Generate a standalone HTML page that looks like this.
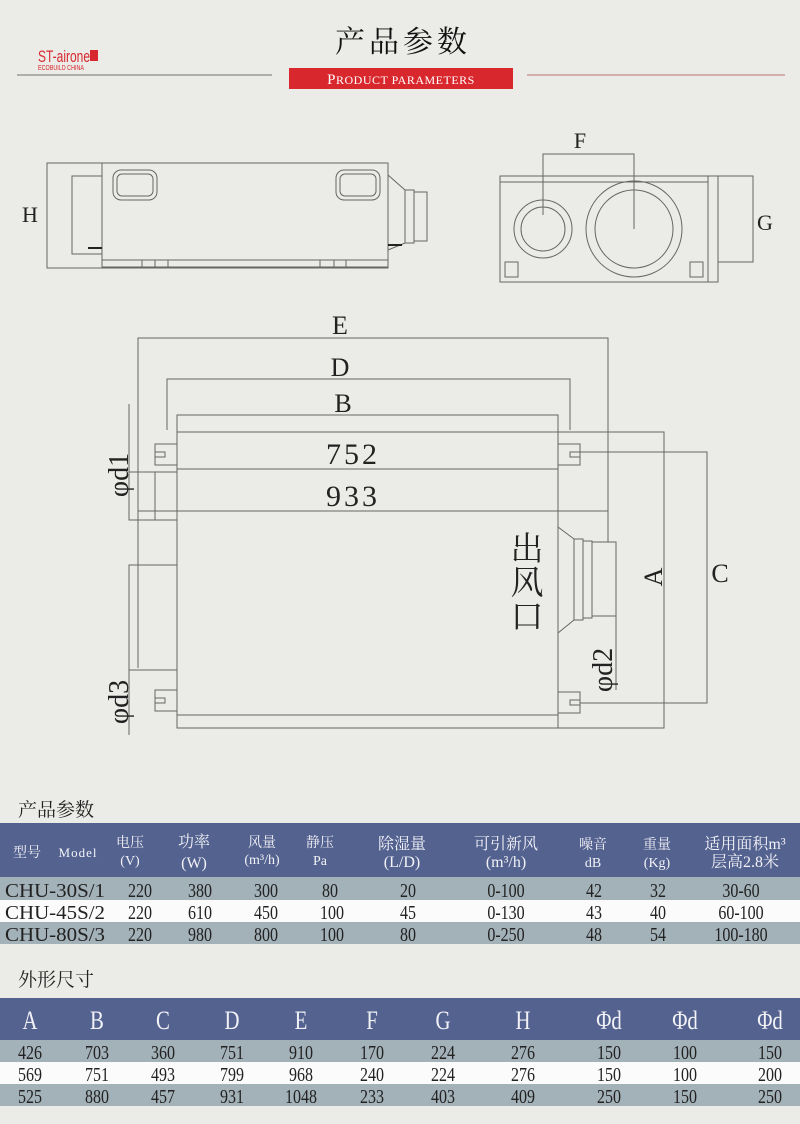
<!DOCTYPE html>
<html><head><meta charset="utf-8"><style>
html,body{margin:0;padding:0;background:#ebebe7;}
svg{display:block;}
text{font-family:"Liberation Serif","Noto Serif CJK SC",serif;}
.n text{transform-box:fill-box;transform-origin:center;transform:scaleX(0.8);}
.logo{font-family:"Liberation Sans",sans-serif !important;}
</style></head><body>
<svg width="800" height="1124" viewBox="0 0 800 1124" xmlns="http://www.w3.org/2000/svg">
<rect width="800" height="1124" fill="#ebebe7"/>
<text x="403" y="52" font-size="30" text-anchor="middle" fill="#111" letter-spacing="4">产品参数</text>
<line x1="17" y1="75" x2="272" y2="75" stroke="#999" stroke-width="1.5"/>
<line x1="527" y1="75" x2="785" y2="75" stroke="#c99" stroke-width="1.5"/>
<rect x="289" y="68" width="224" height="21" fill="#d9272e"/>
<text x="401" y="84" font-size="15" text-anchor="middle" fill="#fff" letter-spacing="0.5">P<tspan font-size="12">RODUCT PARAMETERS</tspan></text>
<text class="logo" x="38" y="62" font-size="17" fill="#d9272e" textLength="52" lengthAdjust="spacingAndGlyphs">ST-airone</text>
<rect x="90" y="50" width="8" height="11" fill="#d9272e"/>
<text class="logo" x="38" y="70" font-size="7" fill="#d9272e" textLength="46" lengthAdjust="spacingAndGlyphs">ECOBUILD CHINA</text>

<g fill="none" stroke="#666" stroke-width="1">
<rect x="47" y="163" width="341" height="105"/>
<rect x="102" y="163" width="286" height="97"/>
<rect x="102" y="260" width="286" height="7"/>
<rect x="72" y="176" width="30" height="78"/>
<rect x="113" y="170" width="44" height="30" rx="8"/>
<rect x="117" y="174" width="36" height="22" rx="5"/>
<rect x="336" y="170" width="44" height="30" rx="8"/>
<rect x="340" y="174" width="36" height="22" rx="5"/>
<path d="M388 175 L405 190 L405 243 L388 250"/>
<rect x="405" y="190" width="9" height="53"/>
<rect x="414" y="192" width="13" height="49"/>
<line x1="142" y1="260" x2="142" y2="267"/><line x1="155" y1="260" x2="155" y2="267"/><line x1="168" y1="260" x2="168" y2="267"/>
<line x1="320" y1="260" x2="320" y2="267"/><line x1="334" y1="260" x2="334" y2="267"/><line x1="346" y1="260" x2="346" y2="267"/>
<line x1="88" y1="248" x2="102" y2="248" stroke="#222" stroke-width="2"/>
<line x1="388" y1="245" x2="402" y2="245" stroke="#222" stroke-width="2"/>
<rect x="500" y="176" width="208" height="106"/>
<line x1="500" y1="182" x2="708" y2="182"/>
<rect x="708" y="176" width="10" height="106"/>
<rect x="718" y="176" width="35" height="86"/>
<circle cx="543" cy="229" r="29"/><circle cx="543" cy="229" r="22"/>
<circle cx="634" cy="229" r="48"/><circle cx="634" cy="229" r="39"/>
<polyline points="543,215 543,154 634,154 634,229"/>
<rect x="505" y="262" width="13" height="15"/><rect x="690" y="262" width="13" height="15"/>
<polyline points="138,668 138,338 608,338 608,542"/>
<polyline points="167,430 167,379 570,379 570,430"/>
<polyline points="177,432 177,415 558,415 558,432"/>
<rect x="177" y="432" width="381" height="296"/>
<line x1="177" y1="715" x2="558" y2="715"/>
<line x1="177" y1="469" x2="558" y2="469"/>
<line x1="138" y1="511" x2="608" y2="511"/>
<path d="M177 444 H155 V465 H177 M155 452 H165 V457 H155"/>
<path d="M177 690 H155 V711 H177 M155 698 H165 V703 H155"/>
<path d="M558 444 H580 V465 H558 M580 452 H570 V457 H580"/>
<path d="M558 692 H580 V713 H558 M580 700 H570 V705 H580"/>
<polyline points="129,404 129,520 177,520"/>
<polyline points="155,472 155,520"/>
<line x1="129" y1="472" x2="177" y2="472"/>
<polyline points="177,565 129,565 129,735"/>
<line x1="129" y1="670" x2="177" y2="670"/>
<path d="M558 527 L574 539 L574 620 L558 633"/>
<rect x="574" y="539" width="9" height="81"/><rect x="583" y="541" width="9" height="77"/><rect x="592" y="542" width="24" height="74"/>
<line x1="616" y1="616" x2="616" y2="690"/>
<polyline points="558,432 664,432 664,728 558,728"/>
<polyline points="580,452 707,452 707,703 580,703"/>
</g>
<g fill="#222" font-size="26" text-anchor="middle">
<text x="30" y="222" font-size="22">H</text>
<text x="580" y="148" font-size="22">F</text>
<text x="765" y="230" font-size="22">G</text>
<text x="340" y="334">E</text>
<text x="340" y="376">D</text>
<text x="343" y="412">B</text>
<text x="353" y="464" font-size="30" letter-spacing="3">752</text>
<text x="353" y="506" font-size="30" letter-spacing="3">933</text>
<text x="720" y="582">C</text>
<text transform="translate(662,577) rotate(-90)">A</text>
<text transform="translate(128,475) rotate(-90)" font-size="28">φd1</text>
<text transform="translate(128,702) rotate(-90)" font-size="28">φd3</text>
<text transform="translate(612,670) rotate(-90)" font-size="28">φd2</text>
<text x="527" y="560" font-size="33">出</text>
<text x="527" y="594" font-size="33">风</text>
<text x="527" y="628" font-size="33">口</text>
</g>

<text x="18" y="816" font-size="19" fill="#222">产品参数</text>
<rect x="0" y="823" width="800" height="54" fill="#546290"/>
<rect x="0" y="877" width="800" height="23" fill="#a3b1b8"/>
<rect x="0" y="900" width="800" height="22" fill="#fbfbfb"/>
<rect x="0" y="922" width="800" height="22" fill="#a3b1b8"/>
<g fill="#f2f2f6" text-anchor="middle" font-size="14">
<text x="27" y="857">型号</text><text x="78" y="857" font-size="13" letter-spacing="1">Model</text>
<text x="130" y="847">电压</text><text x="130" y="865">(V)</text>
<text x="194" y="847" font-size="16">功率</text><text x="194" y="868" font-size="16">(W)</text>
<text x="262" y="847">风量</text><text x="262" y="864">(m³/h)</text>
<text x="320" y="847">静压</text><text x="320" y="865">Pa</text>
<text x="402" y="849" font-size="16">除湿量</text><text x="402" y="867" font-size="16">(L/D)</text>
<text x="506" y="849" font-size="16">可引新风</text><text x="506" y="867" font-size="16">(m³/h)</text>
<text x="593" y="849">噪音</text><text x="593" y="867">dB</text>
<text x="657" y="849">重量</text><text x="657" y="867">(Kg)</text>
<text x="745" y="849" font-size="16">适用面积m³</text><text x="745" y="867" font-size="16">层高2.8米</text>
</g>
<g fill="#222" font-size="20">
<text x="5" y="897" textLength="100" lengthAdjust="spacingAndGlyphs">CHU-30S/1</text>
<text x="5" y="919" textLength="100" lengthAdjust="spacingAndGlyphs">CHU-45S/2</text>
<text x="5" y="941" textLength="100" lengthAdjust="spacingAndGlyphs">CHU-80S/3</text>
</g>
<g fill="#222" font-size="20" text-anchor="middle" class="n">
<text x="140" y="897">220</text><text x="200" y="897">380</text><text x="266" y="897">300</text><text x="330" y="897">80</text><text x="408" y="897">20</text><text x="506" y="897">0-100</text><text x="594" y="897">42</text><text x="658" y="897">32</text><text x="741" y="897">30-60</text>
<text x="140" y="919">220</text><text x="200" y="919">610</text><text x="266" y="919">450</text><text x="332" y="919">100</text><text x="408" y="919">45</text><text x="506" y="919">0-130</text><text x="594" y="919">43</text><text x="658" y="919">40</text><text x="741" y="919">60-100</text>
<text x="140" y="941">220</text><text x="200" y="941">980</text><text x="266" y="941">800</text><text x="332" y="941">100</text><text x="408" y="941">80</text><text x="506" y="941">0-250</text><text x="594" y="941">48</text><text x="658" y="941">54</text><text x="741" y="941">100-180</text>
</g>

<text x="18" y="986" font-size="19" fill="#222">外形尺寸</text>
<rect x="0" y="998" width="800" height="42" fill="#546290"/>
<rect x="0" y="1040" width="800" height="22" fill="#a3b1b8"/>
<rect x="0" y="1062" width="800" height="22" fill="#fbfbfb"/>
<rect x="0" y="1084" width="800" height="22" fill="#a3b1b8"/>
<g fill="#f2f2f6" text-anchor="middle" font-size="26" class="n">
<text x="30" y="1029">A</text><text x="97" y="1029">B</text><text x="163" y="1029">C</text><text x="232" y="1029">D</text><text x="301" y="1029">E</text><text x="372" y="1029">F</text><text x="443" y="1029">G</text><text x="523" y="1029">H</text><text x="609" y="1029">Φd</text><text x="685" y="1029">Φd</text><text x="770" y="1029">Φd</text>
</g>
<g fill="#222" font-size="20" text-anchor="middle" class="n">
<text x="30" y="1059">426</text><text x="97" y="1059">703</text><text x="163" y="1059">360</text><text x="232" y="1059">751</text><text x="301" y="1059">910</text><text x="372" y="1059">170</text><text x="443" y="1059">224</text><text x="523" y="1059">276</text><text x="609" y="1059">150</text><text x="685" y="1059">100</text><text x="770" y="1059">150</text>
<text x="30" y="1081">569</text><text x="97" y="1081">751</text><text x="163" y="1081">493</text><text x="232" y="1081">799</text><text x="301" y="1081">968</text><text x="372" y="1081">240</text><text x="443" y="1081">224</text><text x="523" y="1081">276</text><text x="609" y="1081">150</text><text x="685" y="1081">100</text><text x="770" y="1081">200</text>
<text x="30" y="1103">525</text><text x="97" y="1103">880</text><text x="163" y="1103">457</text><text x="232" y="1103">931</text><text x="301" y="1103">1048</text><text x="372" y="1103">233</text><text x="443" y="1103">403</text><text x="523" y="1103">409</text><text x="609" y="1103">250</text><text x="685" y="1103">150</text><text x="770" y="1103">250</text>
</g>
</svg>
</body></html>
